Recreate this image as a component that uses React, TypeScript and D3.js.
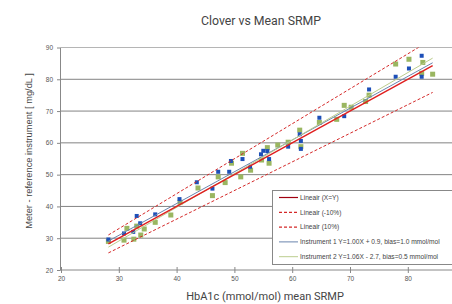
import * as d3 from 'd3';
import React, { useRef, useEffect } from 'react';

const inst1X = [28.2, 30.9, 32.5, 33.1, 33.7, 36.3, 40.5, 43.5, 46.2, 47.2, 49.1, 49.4, 51.4, 52.7, 54.6, 55.0, 55.7, 56.0, 59.3, 61.3, 61.5, 61.5, 64.7, 69.0, 73.3, 77.9, 80.2, 82.4, 82.4];
const inst1Y = [29.6, 31.5, 32.0, 37.0, 34.7, 37.5, 42.3, 47.6, 45.6, 50.9, 50.9, 54.3, 54.9, 52.5, 56.4, 57.5, 57.4, 54.9, 58.8, 62.7, 60.6, 58.1, 67.9, 68.4, 76.8, 80.8, 83.4, 87.4, 80.8];

const inst2X = [28.2, 30.9, 31.4, 32.6, 33.1, 33.8, 34.4, 36.3, 39.0, 40.6, 43.7, 46.2, 47.2, 48.4, 49.5, 51.1, 51.4, 52.8, 54.7, 55.7, 56.0, 57.5, 59.3, 61.3, 61.5, 64.7, 67.7, 69.0, 70.2, 72.7, 73.3, 77.9, 80.2, 82.6, 82.4, 84.3];
const inst2Y = [29.0, 29.4, 33.1, 29.7, 33.8, 31.0, 32.9, 35.0, 37.3, 41.3, 45.8, 43.4, 49.3, 47.5, 53.6, 49.3, 56.7, 51.4, 54.6, 58.5, 53.6, 59.3, 60.2, 64.0, 58.8, 66.4, 67.4, 71.8, 71.2, 73.0, 75.0, 84.8, 86.3, 85.3, 81.9, 81.6];

const xTicks = [20, 30, 40, 50, 60, 70, 80];
const yTicks = [20, 30, 40, 50, 60, 70, 80, 90];

// slope / intercept of each line
const lineSlopes = [1.0, 0.9, 1.1, 1.0, 1.06];
const lineIntercepts = [0, 0, 0, 0.9, -2.7];
const lineColors = ['#e01e1e', '#d42828', '#d42828', '#6a84ad', '#bccd8e'];
const legendColors = ['#a00010', '#d42828', '#d42828', '#6a84ad', '#bccd8e'];
const lineDash = [null, '3,2', '3,2', null, null];
const legendLabels = [
  'Lineair (X=Y)',
  'Lineair (-10%)',
  'Lineair (10%)',
  'Instrument 1 Y=1.00X + 0.9, bias=1.0 mmol/mol',
  'Instrument 2 Y=1.06X - 2.7, bias=0.5 mmol/mol',
];

function Chart({ width, height }) {
  const ref = useRef(null);

  useEffect(() => {
    const svg = d3.select(ref.current);
    svg.selectAll('*').remove();

    const x = d3.scaleLinear().domain([20, 90]).range([61, 465.6]);
    const y = d3.scaleLinear().domain([20, 90]).range([270, 47.5]);
    const font = 'Arial, "Liberation Sans", sans-serif';

    svg.append('defs').append('clipPath').attr('id', 'plotclip')
      .append('rect').attr('x', 60).attr('y', y(90)).attr('width', width - 60).attr('height', y(20) - y(90));

    // gridlines
    svg.append('g').selectAll('line')
      .data(yTicks.slice(1))
      .join('line')
      .attr('x1', 60).attr('x2', width)
      .attr('y1', d => y(d)).attr('y2', d => y(d))
      .attr('stroke', d => d === 90 ? '#b5b5b5' : '#838383')
      .attr('stroke-width', 1);

    // y axis
    const yAxis = svg.append('g')
      .attr('transform', 'translate(60,0)')
      .call(d3.axisLeft(y).tickValues(yTicks).tickSize(3).tickSizeOuter(0).tickPadding(4));
    yAxis.select('.domain').attr('stroke', '#888');
    yAxis.selectAll('.tick line').attr('stroke', '#888');
    yAxis.selectAll('.tick text').attr('font-size', 6.5).attr('fill', '#555').attr('font-family', font);

    // x axis
    const xAxis = svg.append('g')
      .attr('transform', `translate(0,${y(20)})`)
      .call(d3.axisBottom(x).tickValues(xTicks).tickSize(3).tickSizeOuter(0).tickPadding(3));
    xAxis.select('.domain').attr('stroke', '#888').attr('d', `M60,0H${width}`);
    xAxis.selectAll('.tick line').attr('stroke', '#888').attr('y1', -3);
    xAxis.selectAll('.tick text').attr('font-size', 6.5).attr('fill', '#555').attr('font-family', font);

    // points
    const plot = svg.append('g').attr('clip-path', 'url(#plotclip)');
    plot.append('g').selectAll('rect')
      .data(inst2X.map((v, i) => [v, inst2Y[i]]))
      .join('rect')
      .attr('x', d => x(d[0]) - 2.5).attr('y', d => y(d[1]) - 2.5)
      .attr('width', 5).attr('height', 5)
      .attr('fill', '#9ab661');
    plot.append('g').selectAll('rect')
      .data(inst1X.map((v, i) => [v, inst1Y[i]]))
      .join('rect')
      .attr('x', d => x(d[0]) - 2).attr('y', d => y(d[1]) - 2)
      .attr('width', 4).attr('height', 4)
      .attr('fill', '#1d4fb8');

    // lines
    const ext = d3.extent(inst1X.concat(inst2X));
    const order = [1, 2, 3, 4, 0];
    plot.append('g').selectAll('line')
      .data(order)
      .join('line')
      .attr('x1', x(ext[0])).attr('x2', x(ext[1]))
      .attr('y1', i => y(lineSlopes[i] * ext[0] + lineIntercepts[i]))
      .attr('y2', i => y(lineSlopes[i] * ext[1] + lineIntercepts[i]))
      .attr('stroke', i => lineColors[i])
      .attr('stroke-width', i => i === 0 ? 1.4 : 1)
      .attr('stroke-dasharray', i => lineDash[i]);

    // legend
    const lg = svg.append('g').attr('transform', 'translate(272,190)');
    lg.append('rect').attr('x', 0.5).attr('y', 0.5).attr('width', 200).attr('height', 74)
      .attr('fill', '#fff').attr('stroke', '#888');
    const item = lg.selectAll('g.item').data(legendLabels).join('g')
      .attr('class', 'item')
      .attr('transform', (d, i) => `translate(0,${7.5 + i * 14.8})`);
    item.append('line')
      .attr('x1', 7).attr('x2', 26).attr('y1', 0).attr('y2', 0)
      .attr('stroke', (d, i) => legendColors[i])
      .attr('stroke-width', (d, i) => i < 3 ? 1.2 : 1)
      .attr('stroke-dasharray', (d, i) => lineDash[i]);
    item.append('text')
      .attr('x', 28).attr('y', 2.3)
      .attr('font-size', 6.6).attr('fill', '#444').attr('font-family', font)
      .text(d => d);

    // titles
    svg.append('text')
      .attr('x', 261).attr('y', 25)
      .attr('text-anchor', 'middle')
      .attr('font-size', 12.3).attr('fill', '#444').attr('font-family', 'Roboto, sans-serif')
      .text('Clover vs Mean SRMP');
    svg.append('text')
      .attr('x', 265).attr('y', 300)
      .attr('text-anchor', 'middle')
      .attr('font-size', 11).attr('fill', '#444').attr('font-family', 'Roboto, sans-serif')
      .text('HbA1c (mmol/mol) mean SRMP');
    svg.append('text')
      .attr('transform', 'translate(31.5,151) rotate(-90)')
      .attr('text-anchor', 'middle')
      .attr('font-size', 9.3).attr('fill', '#444').attr('font-family', font)
      .text('Meter - reference instrument [ mg/dL ]');
  }, [width, height]);

  return <svg ref={ref} width={width} height={height} style={{ display: 'block' }} />;
}

export default function App() {
  return (
    <div style={{ position: 'fixed', left: 0, top: 0, width: 452, height: 304, background: '#fff', overflow: 'hidden' }}>
      <Chart width={452} height={304} />
    </div>
  );
}
